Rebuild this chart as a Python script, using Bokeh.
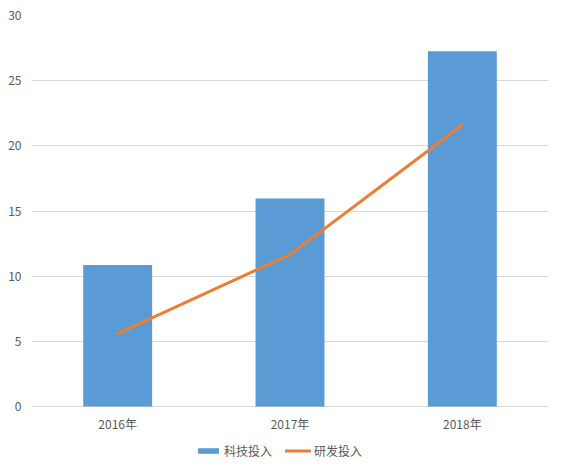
from bokeh.plotting import figure
from bokeh.models import ColumnDataSource, FactorRange, Range1d, FixedTicker, Legend, LegendItem
from bokeh.core.properties import value
from bokeh.embed import file_html
from bokeh.resources import INLINE

categories = ["2016年", "2017年", "2018年"]
tech_invest = [10.85, 15.95, 27.25]
rd_invest = [5.6, 11.65, 21.6]
y_ticks = [0, 5, 10, 15, 20, 25, 30]

FONT = "Noto Sans CJK SC"
GRID = "#d9d9d9"
TEXT = "#595959"

src = ColumnDataSource(data=dict(cat=categories, tech=tech_invest, rd=rd_invest))

# frame spans from top plot edge down to the bottom of the chart; value 0 sits 64px above the bottom
Y_MAX = 30
PX_PER_UNIT = 391 / Y_MAX
Y_MIN = -64 / PX_PER_UNIT

p = figure(x_range=FactorRange(*categories, range_padding=0), y_range=Range1d(Y_MIN, Y_MAX),
           frame_width=517, frame_height=455, output_backend="svg", toolbar_location=None,
           min_border_left=31, min_border_right=15, min_border_top=15, min_border_bottom=0)

bars = p.vbar(x="cat", top="tech", width=0.4, source=src, fill_color="#5B9BD5", line_color=None)
line = p.line(x="cat", y="rd", source=src, line_color="#ED7D31", line_width=3, line_cap="round", line_join="round")

# category labels under the zero line
p.text(x="cat", y=-17 / PX_PER_UNIT, text="cat", source=src, text_align="center", text_baseline="middle",
       text_font=value(FONT), text_font_size="12px", text_color=TEXT)

p.outline_line_color = None
p.background_fill_color = "white"
p.border_fill_color = "white"

p.xaxis.visible = False
p.xgrid.grid_line_color = None
p.ygrid.grid_line_color = GRID
p.ygrid.grid_line_width = 1

p.yaxis.ticker = FixedTicker(ticks=y_ticks)
p.ygrid.ticker = FixedTicker(ticks=y_ticks)
p.yaxis.axis_line_color = None
p.yaxis.major_tick_line_color = None
p.yaxis.minor_tick_line_color = None
p.yaxis.major_tick_out = 0
p.yaxis.major_tick_in = 0
p.yaxis.major_label_standoff = 10
p.yaxis.major_label_text_font = FONT
p.yaxis.major_label_text_font_size = "12px"
p.yaxis.major_label_text_color = TEXT

legend = Legend(items=[LegendItem(label="科技投入", renderers=[bars]),
                       LegendItem(label="研发投入", renderers=[line])],
                orientation="horizontal", location=(164, 11),
                glyph_width=26, glyph_height=7, label_standoff=3, spacing=13,
                padding=0, margin=0, border_line_color=None, background_fill_alpha=0,
                label_text_font=FONT, label_text_font_size="12px", label_text_color=TEXT)
p.add_layout(legend, "center")

open("out.html", "w").write(file_html(p, INLINE))
